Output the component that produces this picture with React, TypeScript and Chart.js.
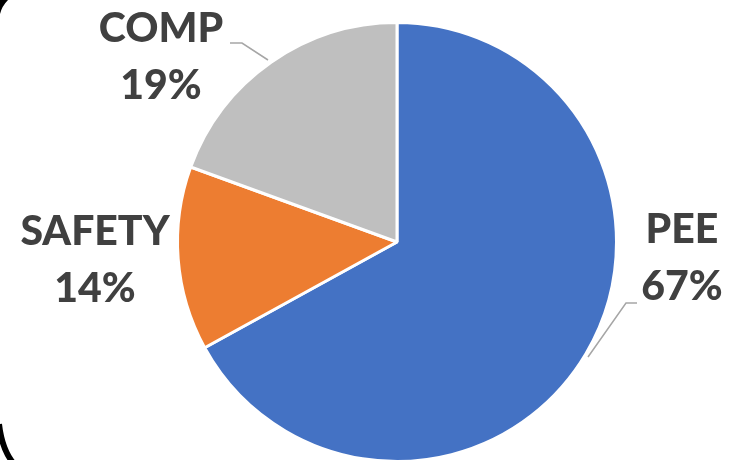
import React, { useEffect, useRef } from "react";
import { Chart, registerables } from "chart.js";

Chart.register(...registerables);

const categories = ["PEE", "SAFETY", "COMP"];
const values = [67.0, 13.55, 19.45];
const colors = ["#4472C4", "#ED7D31", "#BFBFBF"];

// label centres relative to pie centre (layout constants)
const labelOffsets = [
  { dx: 285, dy: 16 },
  { dx: -302, dy: 18 },
  { dx: -236, dy: -185 },
];
// leader lines: [arc point, elbow, end] relative to centre (null = none)
const leaderLines: (number[][] | null)[] = [
  [[191, 115], [229, 61], [240, 61]],
  null,
  [[-129, -182], [-155, -199], [-167, -199]],
];

const labelPlugin = {
  id: "pieLabels",
  afterDraw(chart: any) {
    const ctx = chart.ctx;
    const meta = chart.getDatasetMeta(0);
    const arc = meta.data[0];
    const cx = arc.x;
    const cy = arc.y;
    const total = values.reduce((a, b) => a + b, 0);
    ctx.save();
    ctx.strokeStyle = "#A6A6A6";
    ctx.lineWidth = 1.5;
    leaderLines.forEach((ln) => {
      if (!ln) return;
      ctx.beginPath();
      ctx.moveTo(cx + ln[0][0], cy + ln[0][1]);
      for (let i = 1; i < ln.length; i++) ctx.lineTo(cx + ln[i][0], cy + ln[i][1]);
      ctx.stroke();
    });
    ctx.fillStyle = "#404040";
    ctx.font = "900 41px Lato";
    ctx.textAlign = "center";
    ctx.textBaseline = "middle";
    categories.forEach((c, i) => {
      const o = labelOffsets[i];
      const pct = Math.round((values[i] / total) * 100) + "%";
      ctx.fillText(c, cx + o.dx, cy + o.dy - 28);
      ctx.fillText(pct, cx + o.dx, cy + o.dy + 29);
    });
    // decorative black frame fragments
    ctx.fillStyle = "#000";
    ctx.beginPath();
    ctx.moveTo(0, 0);
    ctx.lineTo(8, 0);
    ctx.quadraticCurveTo(2, 6, 0, 14);
    ctx.closePath();
    ctx.fill();
    ctx.strokeStyle = "#000";
    ctx.lineWidth = 6;
    ctx.beginPath();
    ctx.moveTo(-1, 424);
    ctx.quadraticCurveTo(2, 450, 14, 464);
    ctx.stroke();
    ctx.restore();
  },
};

export default function App() {
  const ref = useRef<HTMLCanvasElement>(null);
  useEffect(() => {
    document.body.style.margin = "0";
    const chart = new Chart(ref.current!, {
      type: "pie",
      data: {
        labels: categories,
        datasets: [
          {
            data: values,
            backgroundColor: colors,
            borderColor: "#FFFFFF",
            borderWidth: 3,
          },
        ],
      },
      options: {
        responsive: false,
        animation: false,
        devicePixelRatio: 1,
        layout: { padding: { top: 21, bottom: 37, left: 176, right: 112 } },
        plugins: { legend: { display: false }, tooltip: { enabled: false } },
      },
      plugins: [labelPlugin],
    });
    return () => chart.destroy();
  }, []);
  return (
    <div
      style={{
        position: "fixed",
        left: 0,
        top: 0,
        width: 730,
        height: 460,
        overflow: "hidden",
        background: "#fff",
      }}
    >
      <canvas ref={ref} width={730} height={500} style={{ display: "block" }} />
    </div>
  );
}
